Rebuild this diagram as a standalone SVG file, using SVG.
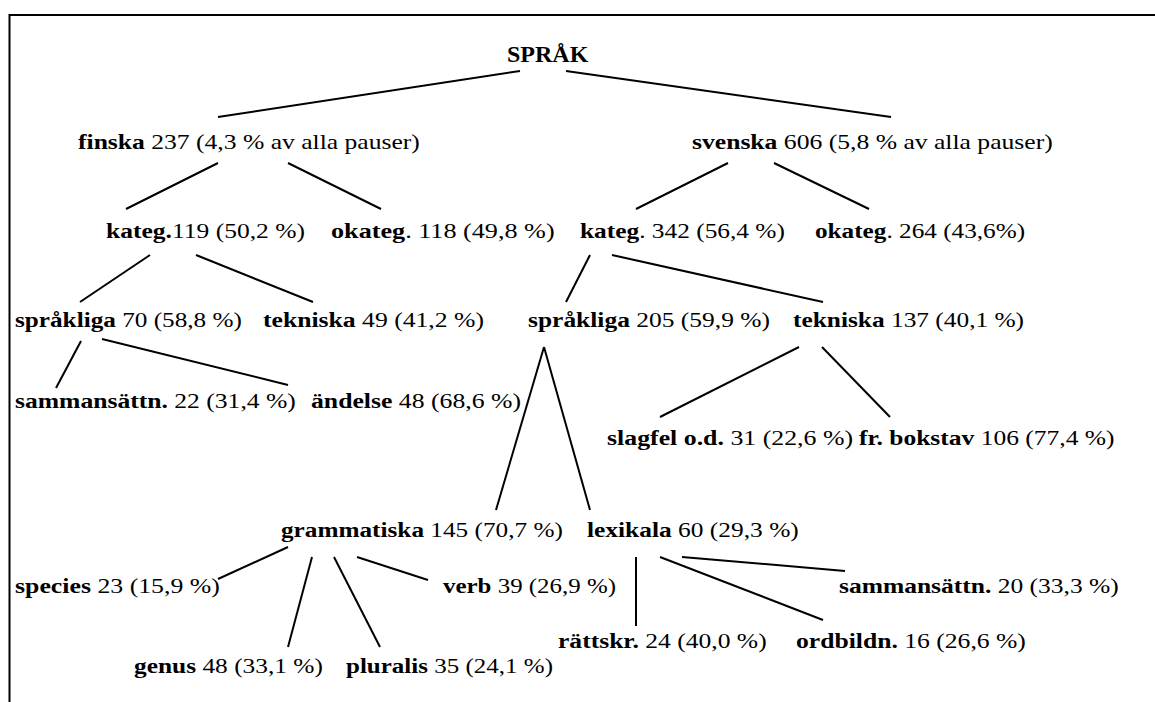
<svg xmlns="http://www.w3.org/2000/svg" width="1155" height="702" viewBox="0 0 1155 702">
<style>
.t text{font-family:"Liberation Serif","Times New Roman",Times,serif;font-size:22px;fill:#000}
.b{font-weight:bold}
.frame{stroke:#000;stroke-width:2;fill:none}
#connectors line{stroke:#000;stroke-width:2;stroke-linecap:butt}
</style>
<rect width="1155" height="702" fill="#fff"/>
<path class="frame" d="M1155,15 H9.5 V702"/>
<g id="connectors">
<line x1="520" y1="71" x2="218" y2="117"/>
<line x1="566" y1="71" x2="891" y2="117"/>
<line x1="218" y1="163" x2="126" y2="209"/>
<line x1="288" y1="163" x2="381" y2="209"/>
<line x1="728" y1="163" x2="636" y2="209"/>
<line x1="774" y1="163" x2="869" y2="209"/>
<line x1="150" y1="255" x2="80" y2="302"/>
<line x1="196" y1="255" x2="313" y2="302"/>
<line x1="590" y1="255" x2="566" y2="302"/>
<line x1="612" y1="255" x2="823" y2="302"/>
<line x1="81" y1="341" x2="56" y2="388"/>
<line x1="102" y1="339" x2="288" y2="385"/>
<line x1="544" y1="347" x2="496" y2="510"/>
<line x1="544" y1="347" x2="590" y2="510"/>
<line x1="799" y1="347" x2="660" y2="417"/>
<line x1="822" y1="347" x2="890" y2="417"/>
<line x1="288" y1="547" x2="218" y2="579"/>
<line x1="312" y1="557" x2="288" y2="647"/>
<line x1="334" y1="557" x2="380" y2="647"/>
<line x1="357" y1="557" x2="428" y2="580"/>
<line x1="636" y1="557" x2="636" y2="626"/>
<line x1="660" y1="557" x2="823" y2="620"/>
<line x1="682" y1="557" x2="845" y2="571"/>
</g>
<g class="t">
<g id="n-sprak"><text transform="translate(507 62)" class="b" style="font-size:24px">SPRÅK</text></g>
<g id="n-finska"><text transform="matrix(1.164 0 0 1 78 149)"><tspan class="b">finska</tspan> 237 (4,3 % av alla pauser)</text></g>
<g id="n-svenska"><text transform="matrix(1.165 0 0 1 692 149)"><tspan class="b">svenska</tspan> 606 (5,8 % av alla pauser)</text></g>
<g id="n-fi-kateg"><text transform="matrix(1.161 0 0 1 106 238)"><tspan class="b">kateg.</tspan>119 (50,2 %)</text></g>
<g id="n-fi-okateg"><text transform="matrix(1.19 0 0 1 331 238)"><tspan class="b">okateg</tspan>. 118 (49,8 %)</text></g>
<g id="n-sv-kateg"><text transform="matrix(1.153 0 0 1 580 238)"><tspan class="b">kateg</tspan>. 342 (56,4 %)</text></g>
<g id="n-sv-okateg"><text transform="matrix(1.146 0 0 1 815 238)"><tspan class="b">okateg</tspan>. 264 (43,6%)</text></g>
<g id="n-fi-sprakliga"><text transform="matrix(1.146 0 0 1 15 327)"><tspan class="b">språkliga</tspan> 70 (58,8 %)</text></g>
<g id="n-fi-tekniska"><text transform="matrix(1.167 0 0 1 263 327)"><tspan class="b">tekniska</tspan> 49 (41,2 %)</text></g>
<g id="n-sv-sprakliga"><text transform="matrix(1.158 0 0 1 528 327)"><tspan class="b">språkliga</tspan> 205 (59,9 %)</text></g>
<g id="n-sv-tekniska"><text transform="matrix(1.153 0 0 1 793 327)"><tspan class="b">tekniska</tspan> 137 (40,1 %)</text></g>
<g id="n-fi-sammansattn"><text transform="matrix(1.164 0 0 1 15 408)"><tspan class="b">sammansättn.</tspan> 22 (31,4 %)</text></g>
<g id="n-fi-andelse"><text transform="matrix(1.169 0 0 1 311 408)"><tspan class="b">ändelse</tspan> 48 (68,6 %)</text></g>
<g id="n-slagfel"><text transform="matrix(1.174 0 0 1 607 445)"><tspan class="b">slagfel o.d.</tspan> 31 (22,6 %)</text></g>
<g id="n-bokstav"><text transform="matrix(1.16 0 0 1 859 445)"><tspan class="b">fr. bokstav</tspan> 106 (77,4 %)</text></g>
<g id="n-grammatiska"><text transform="matrix(1.148 0 0 1 281 537)"><tspan class="b">grammatiska</tspan> 145 (70,7 %)</text></g>
<g id="n-lexikala"><text transform="matrix(1.156 0 0 1 587 537)"><tspan class="b">lexikala</tspan> 60 (29,3 %)</text></g>
<g id="n-species"><text transform="matrix(1.173 0 0 1 15 593)"><tspan class="b">species</tspan> 23 (15,9 %)</text></g>
<g id="n-verb"><text transform="matrix(1.133 0 0 1 443 593)"><tspan class="b">verb</tspan> 39 (26,9 %)</text></g>
<g id="n-sv-sammansattn"><text transform="matrix(1.16 0 0 1 839 593)"><tspan class="b">sammansättn.</tspan> 20 (33,3 %)</text></g>
<g id="n-rattskr"><text transform="matrix(1.163 0 0 1 558 648)"><tspan class="b">rättskr.</tspan> 24 (40,0 %)</text></g>
<g id="n-ordbildn"><text transform="matrix(1.165 0 0 1 796 648)"><tspan class="b">ordbildn.</tspan> 16 (26,6 %)</text></g>
<g id="n-genus"><text transform="matrix(1.154 0 0 1 134 673)"><tspan class="b">genus</tspan> 48 (33,1 %)</text></g>
<g id="n-pluralis"><text transform="matrix(1.137 0 0 1 346 673)"><tspan class="b">pluralis</tspan> 35 (24,1 %)</text></g>
</g>
</svg>
